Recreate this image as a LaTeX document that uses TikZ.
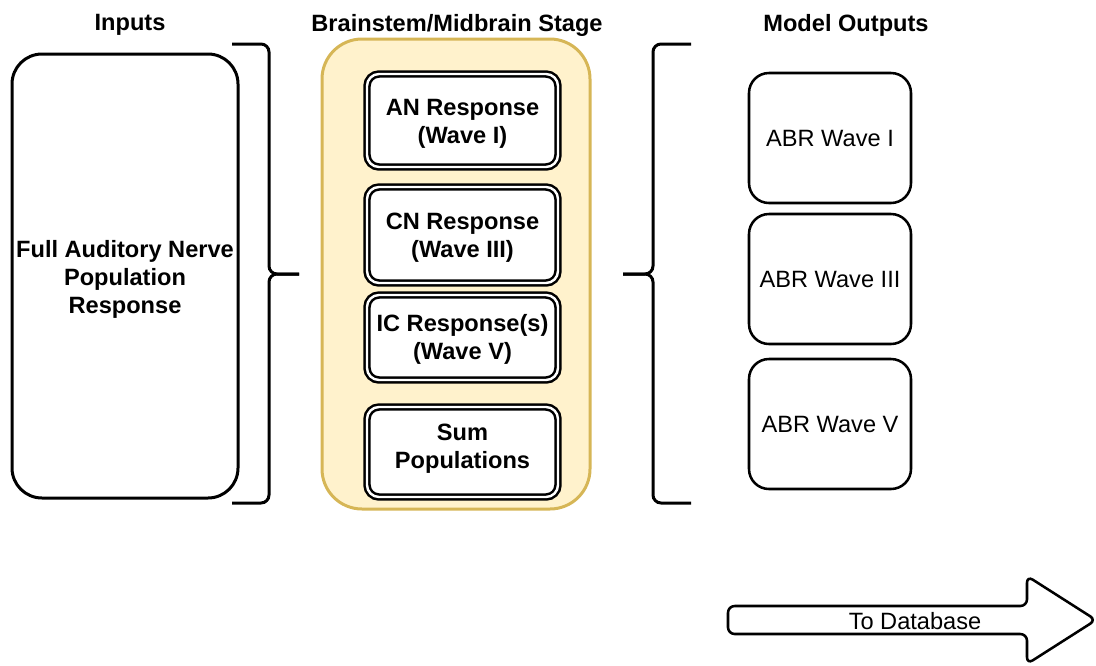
\documentclass[tikz,border=0pt]{standalone}
\usepackage{fontspec}
\setmainfont{Liberation Sans}
\definecolor{stagefill}{HTML}{FFF2CC}
\definecolor{stageline}{HTML}{D6B656}
\newcommand{\diagfont}{\fontsize{17.7}{21}\selectfont}
\begin{document}
\begin{tikzpicture}[x=0.75pt,y=-0.75pt,
  every node/.style={font=\diagfont, align=center, inner sep=0pt},
  title/.style={font=\diagfont\bfseries},
  boldtext/.style={font=\diagfont\bfseries},
  inbox/.style={draw, line width=2.25pt, rounded corners=22.5pt, fill=white,
    minimum width=169.5pt, minimum height=333pt},
  stage/.style={draw=stageline, fill=stagefill, line width=2.25pt, rounded corners=30pt,
    minimum width=201pt, minimum height=352.5pt},
  stepbox/.style={draw, double=white, line width=1.9pt, double distance=1.8pt,
    rounded corners=9pt, fill=white, minimum width=143.25pt},
  outbox/.style={draw, line width=1.9pt, rounded corners=15pt, fill=white,
    minimum width=121.5pt, minimum height=97.5pt},
  brace/.style={line width=2.25pt, rounded corners=6pt}
]
\useasboundingbox (0,0) rectangle (1096,665);

% column titles
\node[title] (tin)  at (130,25) {Inputs};
\node[title] (tmid) at (457,25) {Brainstem/Midbrain Stage};
\node[title] (tout) at (846,25) {Model Outputs};

% input population
\node[inbox] (input) at (125,276) {};
\node[boldtext] (inputText) at ([yshift=-2.25pt]input.center)
  {Full Auditory Nerve\\Population\\Response};

% brainstem / midbrain stage
\node[stage] (stage) at (456,274) {};
\node[stepbox, minimum height=69.75pt] (an)  at (462.5,120.5) {};
\node[stepbox, minimum height=72pt]    (cn)  at (462.5,235)   {};
\node[stepbox, minimum height=63.75pt] (ic)  at (462.5,337.5) {};
\node[stepbox, minimum height=67.5pt]  (sum) at (462.5,452)   {};
\node[boldtext] (anText)  at ([yshift=-2.25pt]an.center)  {AN Response\\(Wave I)};
\node[boldtext] (cnText)  at ([yshift=-2.25pt]cn.center)  {CN Response\\(Wave III)};
\node[boldtext] (icText)  at ([yshift=-1.5pt]ic.center)   {IC Response(s)\\(Wave V)};
\node[boldtext] (sumText) at ([yshift=2.25pt]sum.center)  {Sum\\Populations};

% model outputs
\node[outbox] (w1) at (830,138) {ABR Wave I};
\node[outbox] (w3) at (830,279) {ABR Wave III};
\node[outbox] (w5) at (830,424) {ABR Wave V};

% braces
\draw[brace] (232,44) -- (269,44) -- (269,274) -- (299,274);
\draw[brace] (232,503) -- (269,503) -- (269,274) -- (299,274);
\draw[brace] (691,44) -- (653,44) -- (653,274) -- (623,274);
\draw[brace] (691,503) -- (653,503) -- (653,274) -- (623,274);

% export arrow
\draw[line width=1.9pt, rounded corners=5pt, fill=white]
  (728,606) -- (1027,606) -- (1027,576) -- (1096,620) -- (1027,664)
  -- (1027,634) -- (728,634) -- cycle;
\node (db) at (915,621) {To Database};
\end{tikzpicture}
\end{document}
